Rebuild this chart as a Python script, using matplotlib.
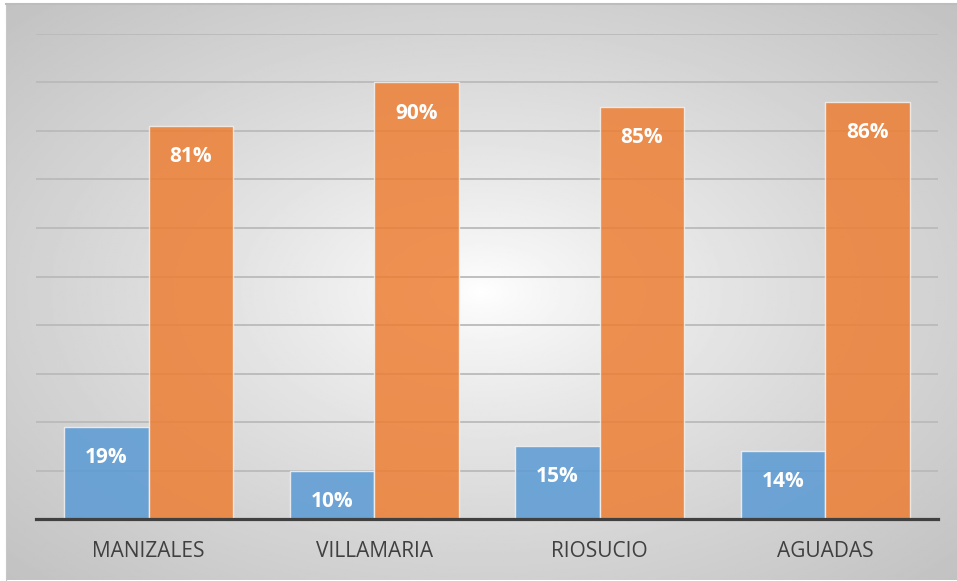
import matplotlib.pyplot as plt
import numpy as np

# data
municipios = ['MANIZALES', 'VILLAMARIA', 'RIOSUCIO', 'AGUADAS']
serie_azul = [19, 10, 15, 14]
serie_naranja = [81, 90, 85, 86]

W, H = 957, 581
fig = plt.figure(figsize=(W / 100, H / 100), dpi=100)
fig.patch.set_facecolor('white')

# chart area with a radial gray gradient
bg = fig.add_axes([6 / W, 1 / H, (W - 6) / W, (H - 5) / H])
yy, xx = np.mgrid[-1:1:300j, -1:1:500j]
r = np.sqrt(xx ** 2 + yy ** 2) / np.sqrt(2)
bg.imshow(1 - 0.24 * r ** 0.8, cmap='gray', vmin=0, vmax=1, aspect='auto',
          extent=[0, 1, 0, 1], interpolation='bilinear')
bg.set_xlim(0, 1)
bg.set_ylim(0, 1)
bg.set_xticks([])
bg.set_yticks([])
for side in ['bottom', 'right']:
    bg.spines[side].set_visible(False)
bg.spines['top'].set_color('#BDBDBD')
bg.spines['top'].set_linewidth(1.5)
bg.spines['left'].set_color('#C8C8C8')

ax = fig.add_axes([36 / W, (H - 519) / H, (938 - 36) / W, (519 - 34) / H])
ax.patch.set_alpha(0)

x = np.arange(len(municipios))
w = 0.375
b1 = ax.bar(x - w / 2, serie_azul, w, color='#5B9BD5', alpha=0.86,
            edgecolor='#F2F2F2', linewidth=1, zorder=3)
b2 = ax.bar(x + w / 2, serie_naranja, w, color='#ED7D31', alpha=0.84,
            edgecolor='#F2F2F2', linewidth=1, zorder=3)

for bars, vals in [(b1, serie_azul), (b2, serie_naranja)]:
    for rect, v in zip(bars, vals):
        ax.annotate(f'{v}%', (rect.get_x() + rect.get_width() / 2, v),
                    xytext=(0, -22), textcoords='offset points',
                    ha='center', va='center', color='white',
                    fontsize=15, fontweight='bold', family='Open Sans', zorder=4)

ax.set_xlim(-0.5, 3.5)
ax.set_ylim(0, 100)
ax.set_yticks(np.arange(10, 101, 10))
ax.yaxis.grid(True, color='#BABABA', linewidth=1.3, zorder=0)
ax.set_axisbelow(True)
ax.tick_params(axis='y', length=0, labelleft=False)
ax.set_xticks(x)
ax.set_xticklabels(municipios, fontsize=15, color='#404040', family='Open Sans')
ax.tick_params(axis='x', length=0, pad=16)
for side in ['left', 'right', 'top']:
    ax.spines[side].set_visible(False)
ax.spines['bottom'].set_color('#404040')
ax.spines['bottom'].set_linewidth(2.3)
ax.spines['bottom'].set_zorder(5)

fig.savefig('out.png', dpi=100)
